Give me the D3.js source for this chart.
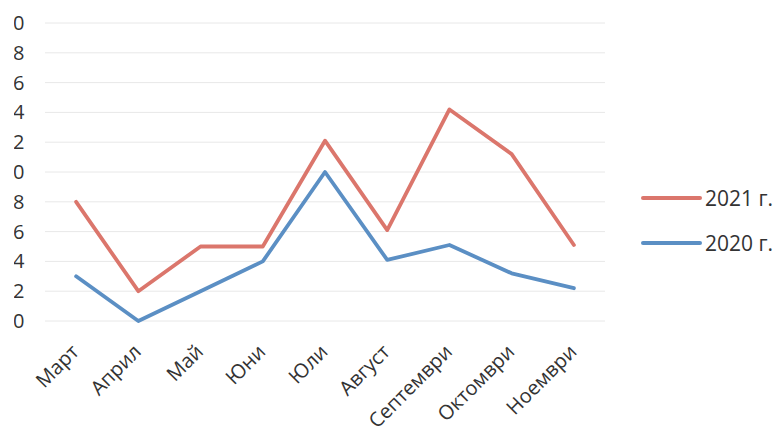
<!DOCTYPE html>
<html>
<head>
<meta charset="utf-8">
<script src="https://cdn.jsdelivr.net/npm/d3@7"></script>
<style>
  html, body { margin: 0; padding: 0; background: #fff; }
  #chart { width: 775px; height: 427px; }
</style>
</head>
<body>
<div id="chart"></div>
<script>
const width = 775;
const height = 427;

const months = ['Март', 'Април', 'Май', 'Юни', 'Юли', 'Август', 'Септември', 'Октомври', 'Ноември'];
const values2021 = [8, 2, 5, 5, 12.1, 6.1, 14.2, 11.2, 5.1];
const values2020 = [3, 0, 2, 4, 10, 4.1, 5.1, 3.2, 2.2];
const yTicks = [0, 2, 4, 6, 8, 10, 12, 14, 16, 18, 20];

const series = [
  { name: '2021 г.', values: values2021, color: '#db766c' },
  { name: '2020 г.', values: values2020, color: '#5b8fc4' }
];

const font = "'Open Sans', 'Noto Sans', sans-serif";

const svg = d3.select('#chart')
  .append('svg')
  .attr('width', width)
  .attr('height', height);

svg.append('rect')
  .attr('width', width)
  .attr('height', height)
  .attr('fill', '#fff');

const x = d3.scaleBand().domain(months).range([45, 605]);
const y = d3.scaleLinear().domain([0, 20]).range([321, 23]);

// gridlines
svg.append('g')
  .selectAll('line')
  .data(yTicks)
  .enter()
  .append('line')
  .attr('x1', 45)
  .attr('x2', 605)
  .attr('y1', d => y(d))
  .attr('y2', d => y(d))
  .attr('stroke', '#e8e8e8')
  .attr('stroke-width', 1);

// the source picture is cropped on the left, tens digits fall outside
svg.append('defs')
  .append('clipPath')
  .attr('id', 'crop')
  .append('rect')
  .attr('x', 14)
  .attr('y', 0)
  .attr('width', width)
  .attr('height', height);

const yAxis = d3.axisLeft(y).tickValues(yTicks).tickSize(0).tickPadding(0);
const yg = svg.append('g')
  .attr('clip-path', 'url(#crop)')
  .append('g')
  .attr('transform', 'translate(24.5,0)')
  .call(yAxis);
yg.select('.domain').remove();
yg.selectAll('text')
  .attr('font-size', '20px')
  .attr('font-family', font)
  .attr('fill', '#333');

// x labels
const xAxis = d3.axisBottom(x).tickSize(0).tickPadding(0);
const xg = svg.append('g')
  .attr('transform', 'translate(0,353)')
  .call(xAxis);
xg.select('.domain').remove();
xg.selectAll('text')
  .attr('font-size', '20px')
  .attr('font-family', font)
  .attr('fill', '#333')
  .attr('text-anchor', 'end')
  .attr('dy', 0)
  .attr('y', 0)
  .attr('transform', 'translate(4,0) rotate(-45)');

// lines
const line = d3.line()
  .x((d, i) => x(months[i]) + x.bandwidth() / 2)
  .y(d => y(d));

svg.append('g')
  .selectAll('path')
  .data(series)
  .enter()
  .append('path')
  .attr('d', d => line(d.values))
  .attr('fill', 'none')
  .attr('stroke', d => d.color)
  .attr('stroke-width', 3.8)
  .attr('stroke-linejoin', 'round')
  .attr('stroke-linecap', 'round');

// legend
const legend = svg.append('g')
  .selectAll('g')
  .data(series)
  .enter()
  .append('g')
  .attr('transform', (d, i) => `translate(643,${198 + i * 45})`);

legend.append('line')
  .attr('x1', 0)
  .attr('x2', 57)
  .attr('stroke', d => d.color)
  .attr('stroke-width', 4)
  .attr('stroke-linecap', 'round');

legend.append('text')
  .text(d => d.name)
  .attr('x', 62)
  .attr('dy', '0.36em')
  .attr('font-size', '21px')
  .attr('font-family', font)
  .attr('fill', '#333');
</script>
</body>
</html>
